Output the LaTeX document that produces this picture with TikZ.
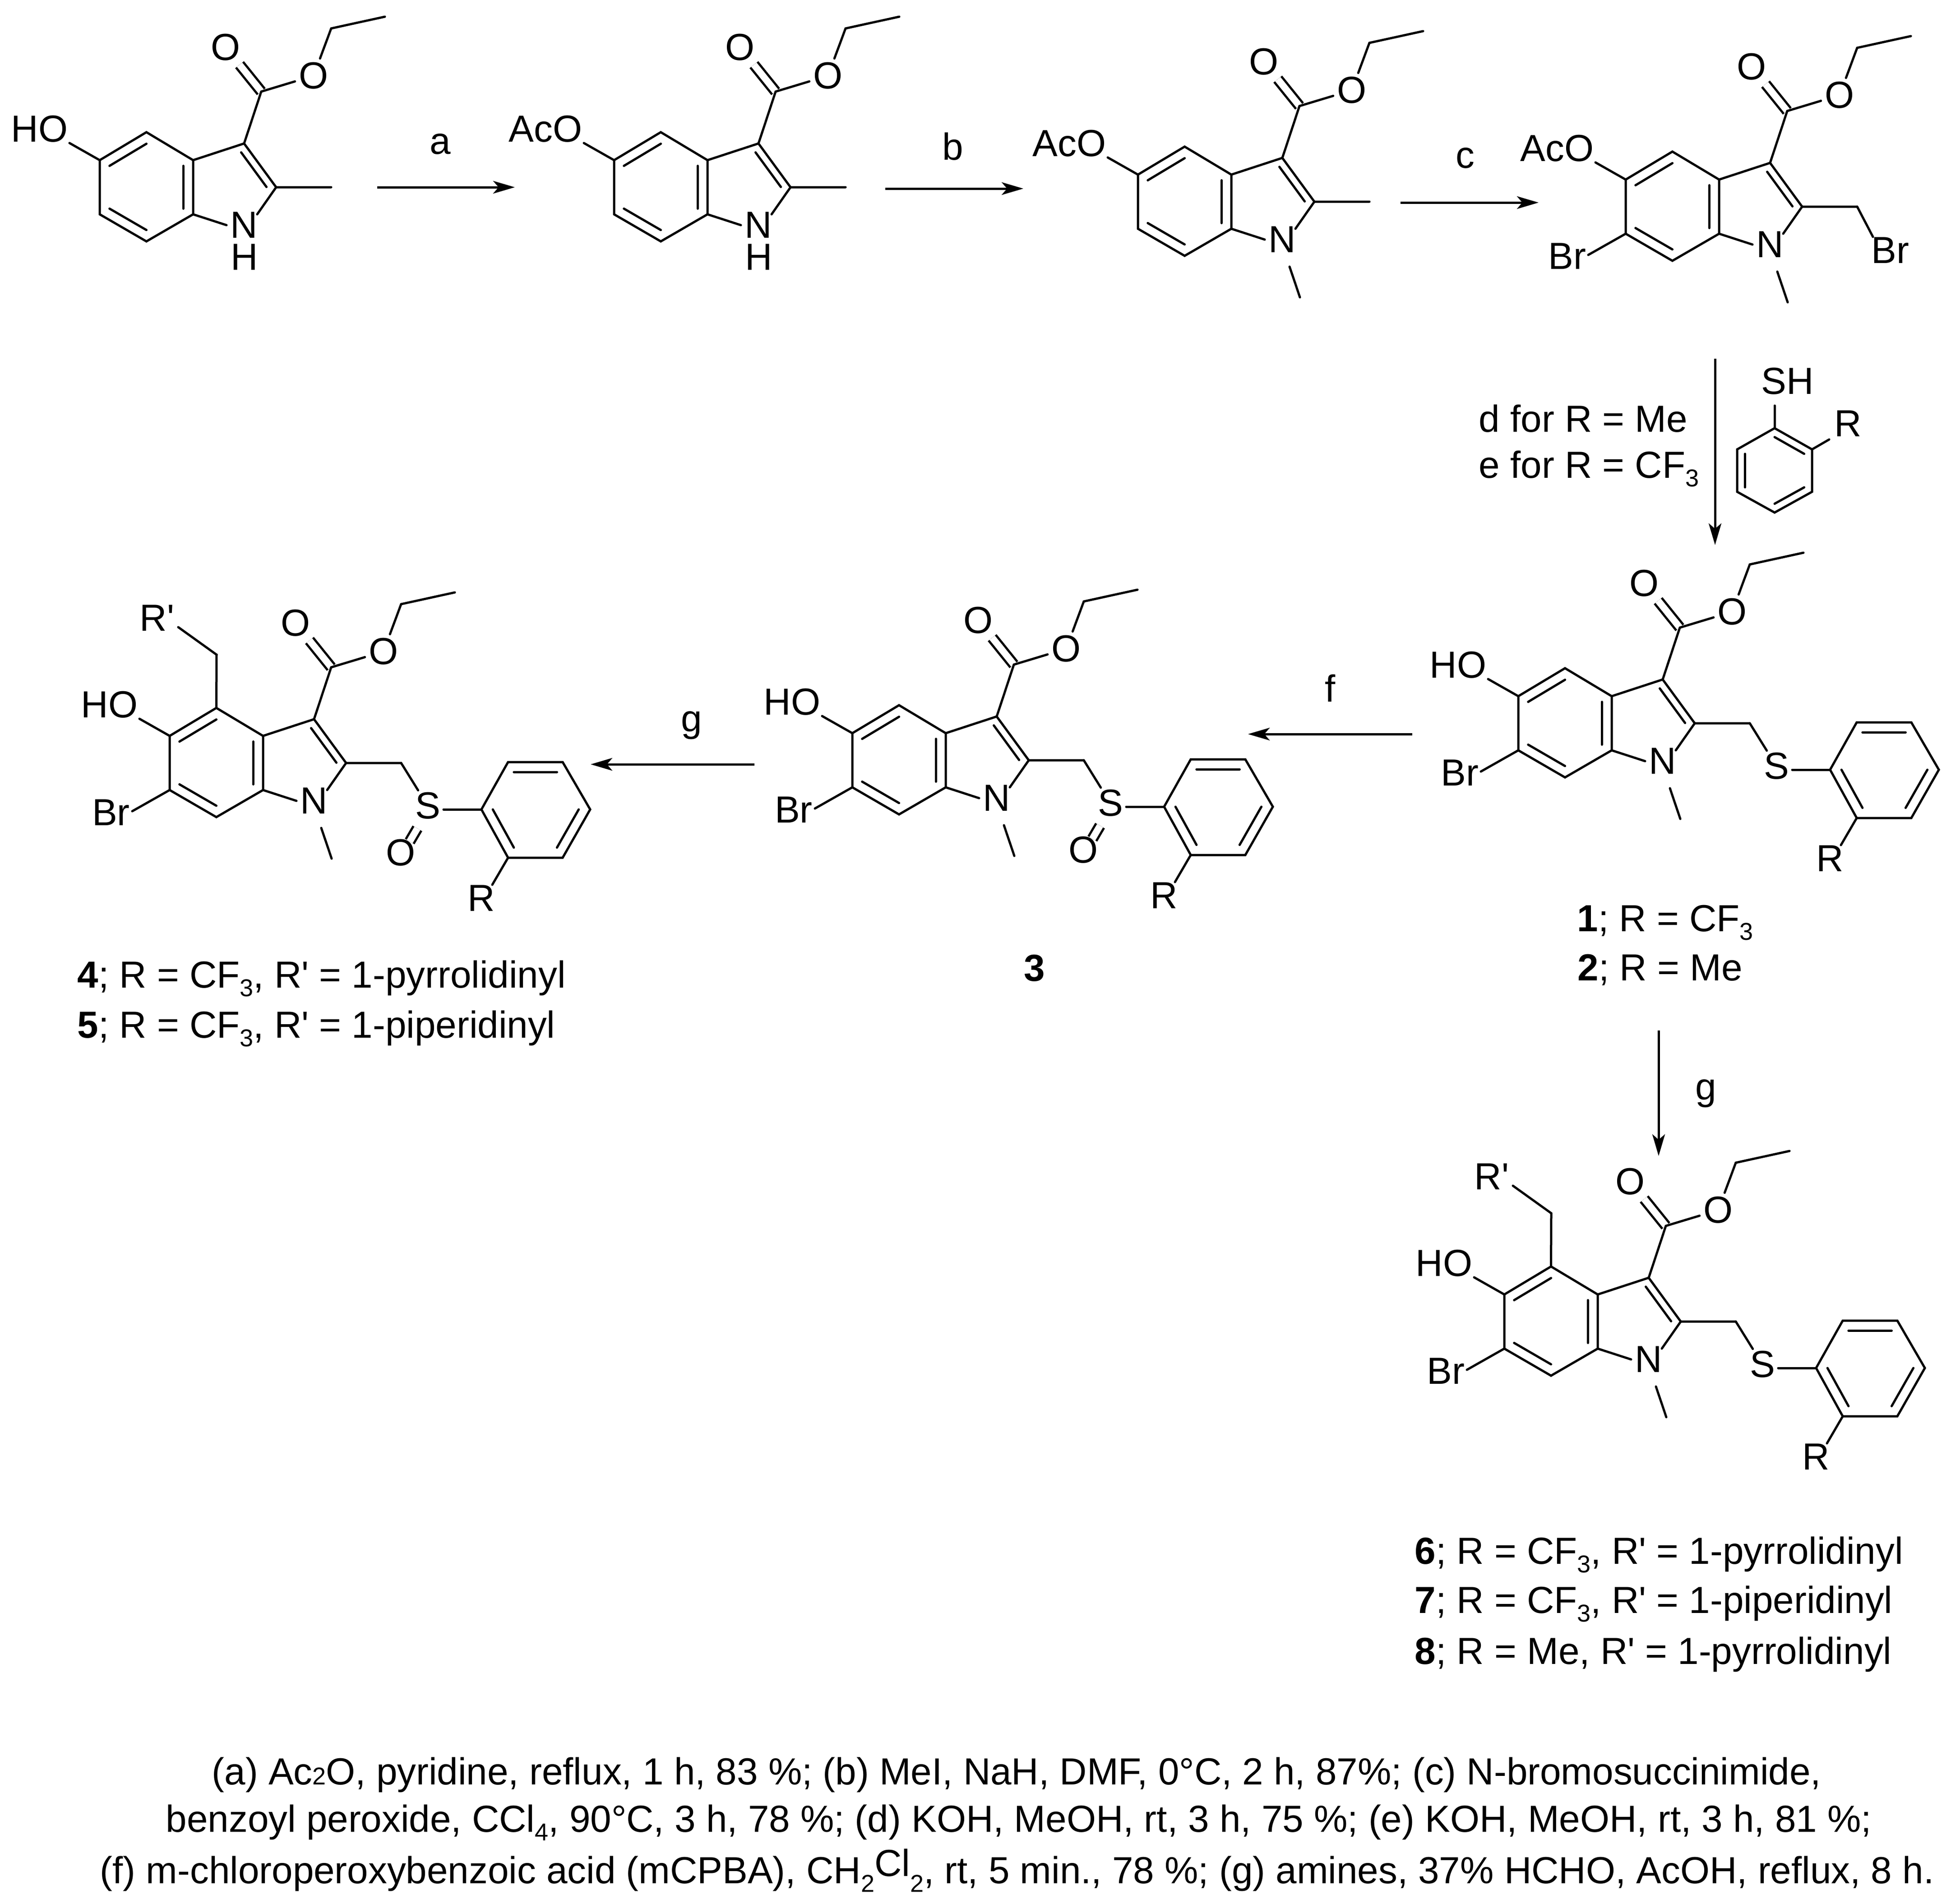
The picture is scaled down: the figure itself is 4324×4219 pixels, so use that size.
\documentclass[tikz,border=0pt]{standalone}
\usepackage{fontspec}
\setmainfont{Liberation Sans}
\usetikzlibrary{calc}
\usetikzlibrary{arrows.meta}
\tikzset{
    bond/.style   = {line width=1.25pt, line cap=round},
    dblbond/.style= {line width=1.25pt, double, double distance=3.75pt},
    rxn/.style    = {line width=1.25pt, -{Stealth[length=12pt,width=7pt,inset=3pt]}},
    atom/.style   = {inner sep=2pt},
    txt/.style    = {inner sep=0pt, anchor=base west},
}
\newcommand*{\rp }{R\textquotesingle}
\newcommand*{\lsub}[1]{\raisebox{-4.8pt}{\fontsize{13.5}{13.5}\selectfont #1}}
% inner line of a double bond, pulled towards the centre of its ring
\newcommand*{\dbnd}[3]{\draw [bond] ($(#1)!.21!(#3)$) -- ($(#2)!.21!(#3)$);}
% indole core with ester, offsets are measured from C5
\newcommand*{\indole}[2]{
    \coordinate (#1c5) at (0,0);
    \coordinate (#1c6) at (0,120);
    \coordinate (#1c4) at (103.5,-62);
    \coordinate (#1c7) at (103.5,180);
    \coordinate (#1c3a) at (207,0);
    \coordinate (#1c7a) at (207,120);
    \coordinate (#1c3) at (320,-37);
    \coordinate (#1c2) at (391,60);
    \coordinate (#1c8) at (513,60);
    \coordinate (#1hx) at (103.5,60);
    \coordinate (#1pc) at (289,57);
    \coordinate (#1ce) at (358,-152);
    \coordinate (#1et) at (513,-292);
    \coordinate (#1me) at (632,-318);
    \coordinate (#1nb) at (349,120);
    \coordinate (#1ob) at (-67,-38);
    \node [atom] (#1n) at (320,144) {N};
    \node [atom] (#1oa) at (279,-250) {O};
    \node [atom] (#1ob2) at (474,-187) {O};
    \node [atom, inner sep=0pt, anchor=base east] (#1sub) at (-70,-41) {#2};
    \draw [dblbond] (#1ce) -- (#1oa);
    \draw [bond] (#1c5) -- (#1c4) -- (#1c3a) -- (#1c7a) -- (#1c7) -- (#1c6) -- cycle;
    \draw [bond] (#1c3a) -- (#1c3) -- (#1c2) -- (#1c8);
    \draw [bond] (#1c2) -- (#1nb);
    \draw [bond] (#1c7a) -- (#1n.west);
    \draw [bond] (#1c3) -- (#1ce) -- (#1ob2) -- (#1et) -- (#1me);
    \draw [bond] (#1c5) -- (#1ob);
    \dbnd{#1c5}{#1c4}{#1hx}
    \dbnd{#1c3a}{#1c7a}{#1hx}
    \dbnd{#1c6}{#1c7}{#1hx}
    \dbnd{#1c3}{#1c2}{#1pc}
}
\newcommand*{\nmethyl}[1]{
    \coordinate (#1ms) at (336,204);
    \coordinate (#1mt) at (359,272);
    \draw [bond] (#1ms) -- (#1mt);
}
\newcommand*{\brright}[1]{
    \coordinate (#1bb) at (-83,167);
    \node [atom] (#1br) at (-130,170) {Br};
    \draw [bond] (#1c6) -- (#1bb);
}
% CH2-S-aryl arm
\newcommand*{\arm}[1]{
    \coordinate (#1sb) at (607,163);
    \coordinate (#1p1) at (691,163);
    \coordinate (#1p2) at (750,270);
    \coordinate (#1p3) at (871,270);
    \coordinate (#1p4) at (932,163);
    \coordinate (#1p5) at (871,58);
    \coordinate (#1p6) at (750,58);
    \coordinate (#1pm) at (811,163);
    \coordinate (#1rb) at (715,330);
    \node [atom, inner sep=1pt] (#1s) at (572,155) {S};
    \node [atom] (#1r) at (691,360) {R};
    \draw [bond] (#1c8) -- (#1s);
    \draw [bond] (#1sb) -- (#1p1);
    \draw [bond] (#1p1) -- (#1p2) -- (#1p3) -- (#1p4) -- (#1p5) -- (#1p6) -- cycle;
    \draw [bond] (#1p2) -- (#1rb);
    \dbnd{#1p1}{#1p2}{#1pm}
    \dbnd{#1p3}{#1p4}{#1pm}
    \dbnd{#1p5}{#1p6}{#1pm}
}
\newcommand*{\sulfox}[1]{
    \coordinate (#1so) at (549,205);
    \coordinate (#1st) at (532,234);
    \node [atom] (#1sx) at (512,259) {O};
    \draw [dblbond] (#1so) -- (#1st);
}
\newcommand*{\mannich}[1]{
    \coordinate (#1ch) at (104,-180);
    \coordinate (#1cb) at (19,-241);
    \node [atom] (#1rp) at (-28,-261) {\rp};
    \draw [bond] (#1c4) -- (#1ch) -- (#1cb);
}

\begin{document}
\begin{tikzpicture}[x=0.25pt, y=-0.25pt, font=\fontsize{20.9}{25}\selectfont]
    \useasboundingbox (0,0) rectangle (4324,4219);

    \begin{scope}[shift={(221,355)}]
        \indole{ma}{HO}
        \node [inner sep=0pt] (mah) at (321,215) {H};
    \end{scope}
    \begin{scope}[shift={(1361,355)}]
        \indole{mb}{AcO}
        \node [inner sep=0pt] (mbh) at (321,215) {H};
    \end{scope}
    \begin{scope}[shift={(2522,387)}]
        \indole{mc}{AcO}
        \nmethyl{mc}
    \end{scope}
    \begin{scope}[shift={(3603,398)}]
        \indole{md}{AcO}
        \nmethyl{md}
        \brright{md}
        \coordinate (mdbe) at (548,127);
        \node [atom] (mdbr2) at (586,157) {Br};
        \draw [bond] (mdc8) -- (mdbe);
    \end{scope}
    \begin{scope}[shift={(3365,1543)}]
        \indole{me}{HO}
        \nmethyl{me}
        \brright{me}
        \arm{me}
    \end{scope}
    \begin{scope}[shift={(1889,1625)}]
        \indole{mf}{HO}
        \nmethyl{mf}
        \brright{mf}
        \arm{mf}
        \sulfox{mf}
    \end{scope}
    \begin{scope}[shift={(376,1631)}]
        \indole{mg}{HO}
        \nmethyl{mg}
        \brright{mg}
        \arm{mg}
        \sulfox{mg}
        \mannich{mg}
    \end{scope}
    \begin{scope}[shift={(3334,2869)}]
        \indole{mh}{HO}
        \nmethyl{mh}
        \brright{mh}
        \arm{mh}
        \mannich{mh}
    \end{scope}

    % thiophenol beside arrow d
    \coordinate (tp1) at (3933,949);
    \coordinate (tp2) at (4016,996);
    \coordinate (tp3) at (4016,1090);
    \coordinate (tp4) at (3933,1136);
    \coordinate (tp5) at (3850,1090);
    \coordinate (tp6) at (3850,996);
    \coordinate (tpm) at (3933,1043);
    \coordinate (tps) at (3933,899);
    \coordinate (tpb) at (4054,974);
    \node [atom] (tsh) at (3962,845) {SH};
    \node [atom] (trr) at (4096,939) {R};
    \draw [bond] (tp1) -- (tp2) -- (tp3) -- (tp4) -- (tp5) -- (tp6) -- cycle;
    \draw [bond] (tp1) -- (tps);
    \draw [bond] (tp2) -- (tpb);
    \dbnd{tp1}{tp2}{tpm}
    \dbnd{tp3}{tp4}{tpm}
    \dbnd{tp5}{tp6}{tpm}

    % reaction arrows
    \coordinate (aa0) at (836,415);  \coordinate (aa1) at (1141,415);
    \coordinate (ab0) at (1962,418); \coordinate (ab1) at (2268,418);
    \coordinate (ac0) at (3104,449); \coordinate (ac1) at (3410,449);
    \coordinate (ad0) at (3801,795); \coordinate (ad1) at (3801,1208);
    \coordinate (af0) at (3130,1627);\coordinate (af1) at (2766,1627);
    \coordinate (ag0) at (1672,1694);\coordinate (ag1) at (1309,1694);
    \coordinate (ah0) at (3676,2284);\coordinate (ah1) at (3676,2562);
    \draw [rxn] (aa0) -- (aa1);
    \draw [rxn] (ab0) -- (ab1);
    \draw [rxn] (ac0) -- (ac1);
    \draw [rxn] (ad0) -- (ad1);
    \draw [rxn] (af0) -- (af1);
    \draw [rxn] (ag0) -- (ag1);
    \draw [rxn] (ah0) -- (ah1);
    \node (la) at (976,319)  {a};
    \node (lb) at (2112,325) {b};
    \node (lc) at (3247,350) {c};
    \node (lf) at (2948,1525) {f};
    \node (lg) at (1533,1608) {g};
    \node (lh) at (3781,2424) {g};
    \node [txt] (ld) at (3277,957)  {d for R = Me};
    \node [txt] (le) at (3277,1059) {e for R = CF\lsub{3}};

    % compound labels
    \node [txt] (cpa) at (3495,2064) {\textbf{1}; R = CF\lsub{3}};
    \node [txt] (cpb) at (3496,2173) {\textbf{2}; R = Me};
    \node [inner sep=0pt] (cpc) at (2293,2146) {\textbf{3}};
    \node [txt] (cpd) at (171,2189) {\textbf{4}; R = CF\lsub{3}, \rp{} = 1-pyrrolidinyl};
    \node [txt] (cpe) at (171,2300) {\textbf{5}; R = CF\lsub{3}, \rp{} = 1-piperidinyl};
    \node [txt] (cpf) at (3135,3466) {\textbf{6}; R = CF\lsub{3}, \rp{} = 1-pyrrolidinyl};
    \node [txt] (cpg) at (3135,3575) {\textbf{7}; R = CF\lsub{3}, \rp{} = 1-piperidinyl};
    \node [txt] (cph) at (3135,3688) {\textbf{8}; R = Me, \rp{} = 1-pyrrolidinyl};

    % conditions
    \node [txt] (fna) at (469,3955) {(a) Ac{\fontsize{13.5}{13.5}\selectfont 2}O, pyridine, reflux, 1 h, 83 \%; (b) MeI, NaH, DMF, 0°C, 2 h, 87\%; (c) N-bromosuccinimide,};
    \node [txt] (fnb) at (367,4060) {benzoyl peroxide, CCl\lsub{4}, 90°C, 3 h, 78 \%; (d) KOH, MeOH, rt, 3 h, 75 \%; (e) KOH, MeOH, rt, 3 h, 81 \%;};
    \node [txt] (fnc) at (221,4174) {(f) m-chloroperoxybenzoic acid (mCPBA), CH\lsub{2}\raisebox{4pt}{Cl}\lsub{2}, rt, 5 min., 78 \%; (g) amines, 37\% HCHO, AcOH, reflux, 8 h.};
\end{tikzpicture}
\end{document}
